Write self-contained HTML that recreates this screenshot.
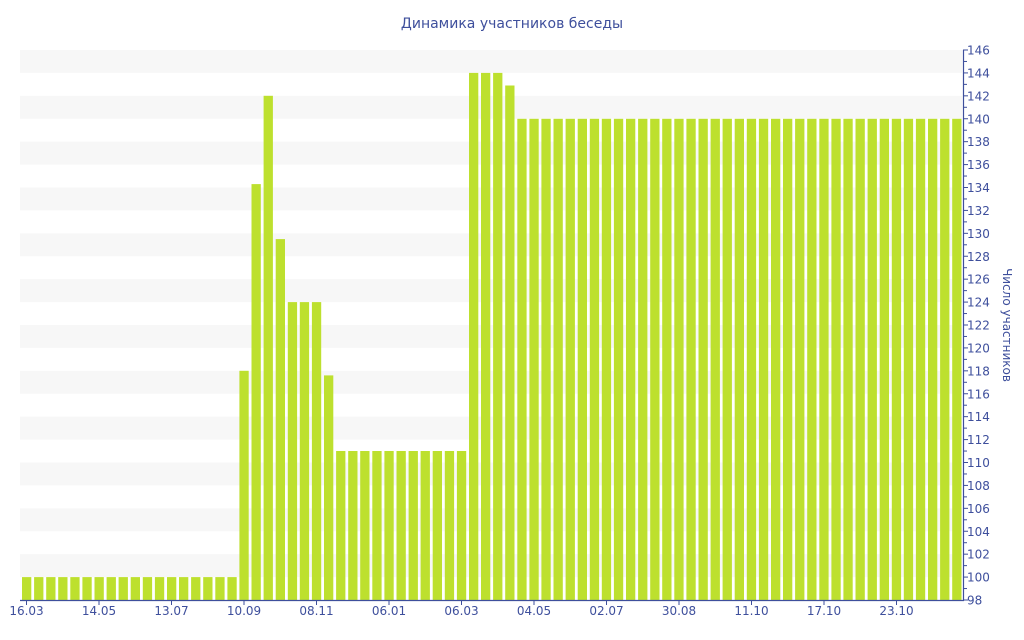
<!DOCTYPE html>
<html><head><meta charset="utf-8"><style>
html,body{margin:0;padding:0;background:#fff;width:1024px;height:640px;overflow:hidden}
svg{display:block;font-family:"DejaVu Sans","Liberation Sans",sans-serif}
</style></head><body>
<svg id="c" width="1024" height="640" xmlns="http://www.w3.org/2000/svg">
<text x="512" y="28" text-anchor="middle" font-size="14" fill="#3e4f9c">Динамика участников беседы</text>
<text transform="translate(1003,325) rotate(90)" text-anchor="middle" font-size="12" fill="#3e4f9c">Число участников</text>
<g id="bands"></g><g id="bars"></g><g id="axes"></g>
</svg>
<script>
var NS="http://www.w3.org/2000/svg";
function el(p,t,a,txt){var e=document.createElementNS(NS,t);for(var k in a)e.setAttribute(k,a[k]);if(txt!==undefined)e.textContent=txt;document.getElementById(p).appendChild(e);}
function Y(v){return 600-(v-98)*550/48;}
for(var v=144;v>=98;v-=4){el("bands","rect",{x:20,y:Y(v+2),width:942,height:Y(v)-Y(v+2),fill:"#f7f7f7"});}
var vals=[];
for(var i=0;i<18;i++)vals.push(100);
vals.push(118,134.3,142,129.5,124,124,124,117.6);
for(i=0;i<11;i++)vals.push(111);
vals.push(144,144,144,142.9);
for(i=0;i<37;i++)vals.push(140);
var p=12.08;
vals.forEach(function(v,i){var x=22+i*p;el("bars","rect",{x:x.toFixed(1),y:Y(v).toFixed(1),width:9.3,height:(600-Y(v)).toFixed(1),fill:"#bde02e"});});
el("axes","line",{x1:20,y1:600.5,x2:964,y2:600.5,stroke:"#3e4f9c","stroke-width":1.2});
el("axes","line",{x1:963.5,y1:50,x2:963.5,y2:601,stroke:"#3e4f9c","stroke-width":1.2});
for(v=98;v<=146;v++){var y=Y(v);el("axes","line",{x1:963,y1:y,x2:v%2?967:968,y2:y,stroke:"#3e4f9c","stroke-width":1});
if(v%2==0)el("axes","text",{x:967,y:y+4.5,"font-size":12,fill:"#3e4f9c"},String(v));}
var labs=["16.03","14.05","13.07","10.09","08.11","06.01","06.03","04.05","02.07","30.08","11.10","17.10","23.10"];
labs.forEach(function(l,k){var x=26.5+k*72.5;el("axes","line",{x1:x,y1:600,x2:x,y2:605,stroke:"#3e4f9c"});
el("axes","text",{x:x,y:615,"font-size":12,fill:"#3e4f9c","text-anchor":"middle"},l);});
</script>
</body></html>
